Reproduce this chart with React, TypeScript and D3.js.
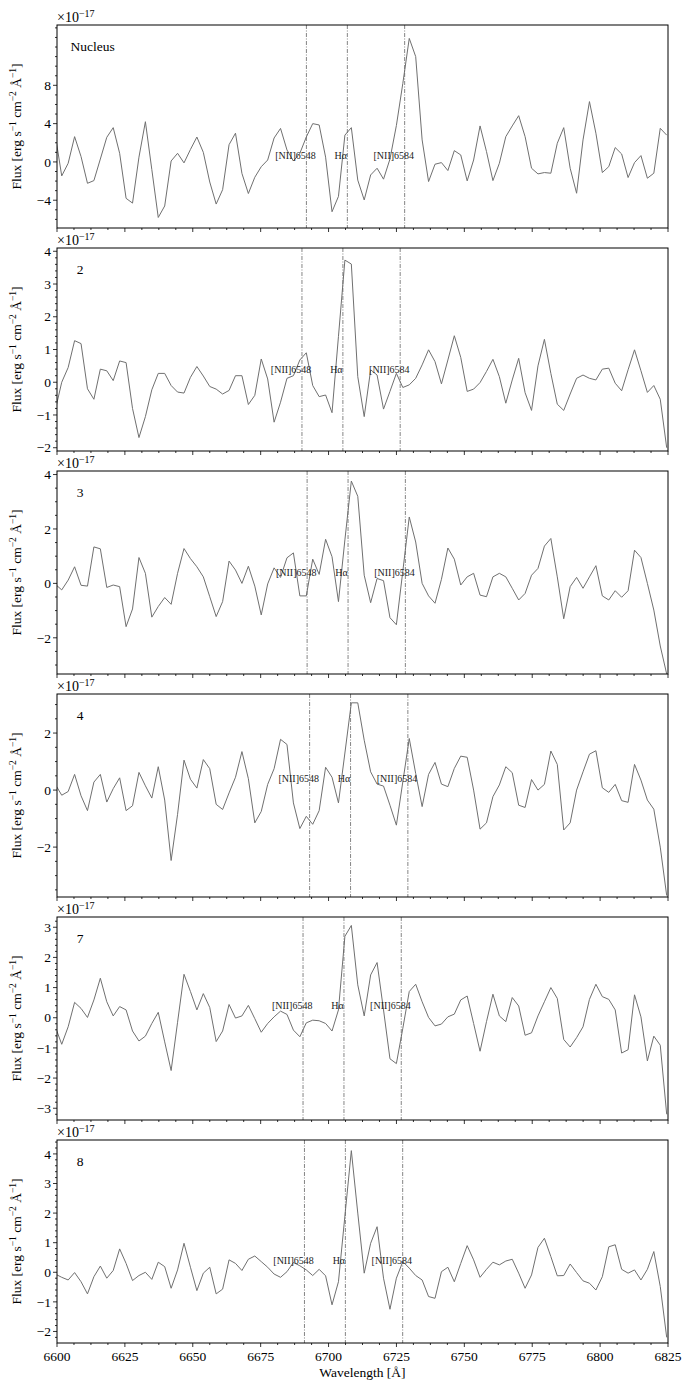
import * as d3 from 'd3';
import React, { useEffect, useRef } from 'react';

// observed wavelength grid of the spectra (Å)
const lambdaStart = 6597.0;
const lambdaStep = 2.37;

const panelNames = ['Nucleus', '2', '3', '4', '7', '8'];
const redshifts = [0.02196, 0.02171, 0.022, 0.02214, 0.02177, 0.02185];
const restLines = [6548.05, 6562.8, 6583.45];
const lineLabels = ['[NII]6548', 'Hα', '[NII]6584'];
const labelLevels = [0.7, 0.4, 0.4, 0.4, 0.4, 0.4];

// flux in units of 1e-17 erg/s/cm2/A
const fluxNucleus = [3.1, 2.8, -1.46, -0.14, 2.64, 0.56, -2.23, -1.95, 0.3, 2.57,
  3.58, 0.9, -3.8, -4.3, 0.5, 4.2, -0.8, -5.8, -4.6, 0.1,
  0.9, -0.1, 1.3, 2.6, 1.0, -2.1, -4.4, -2.9, 1.8, 3.0,
  -1.2, -3.3, -1.6, -0.5, 0.2, 2.5, 3.5, 1.25, 0.1, 0.9,
  2.6, 4.0, 3.86, 0.5, -5.2, -3.6, 2.8, 3.58, -1.9, -3.97,
  -1.36, -0.66, -1.8, 0.3, 3.8, 8.2, 12.9, 11.0, 2.3, -2.05,
  -0.24, -0.07, -0.9, 1.18, 0.73, -1.98, 0.2, 3.76, 1.08, -1.95,
  -0.14, 2.64, 3.76, 4.83, 2.64, -0.66, -1.25, -1.11, -1.18, 1.95,
  3.58, -0.66, -3.27, 2.3, 6.3, 3.0, -1.11, -0.49, 1.5, 0.83,
  -1.63, -0.07, 0.66, -1.7, -1.18, 3.51, 2.8];

const flux2 = [-1.0, -0.85, 0.0, 0.45, 1.27, 1.18, -0.2, -0.52, 0.4, 0.35,
  0.05, 0.65, 0.6, -0.8, -1.69, -1.05, -0.23, 0.27, 0.27, -0.1,
  -0.3, -0.33, 0.15, 0.48, 0.19, -0.13, -0.21, -0.36, -0.25, 0.2,
  0.2, -0.68, -0.4, 0.71, 0.1, -1.22, -0.61, 0.12, 0.2, 0.68,
  0.9, -0.1, -0.44, -0.39, -0.93, 1.4, 3.73, 3.61, 0.17, -1.05,
  0.38, 0.22, -0.82, -0.28, 0.27, -0.16, -0.08, 0.12, 0.53, 0.99,
  0.63, -0.05, 0.68, 1.42, 0.76, -0.28, -0.21, -0.01, 0.33, 0.7,
  0.17, -0.64, 0.07, 0.73, -0.32, -0.86, 0.5, 1.31, 0.27, -0.67,
  -0.86, -0.36, 0.12, 0.22, 0.12, 0.07, 0.4, 0.43, -0.03, -0.26,
  0.38, 0.99, 0.35, -0.31, -0.1, -0.52, -2.0];

const flux3 = [-0.15, -0.03, -0.24, 0.12, 0.61, -0.07, -0.1, 1.34, 1.27, -0.15,
  -0.06, -0.12, -1.59, -0.94, 0.95, 0.37, -1.24, -0.85, -0.52, -0.77,
  0.37, 1.28, 0.91, 0.61, 0.24, -0.49, -1.22, -0.67, 0.82, 0.49,
  0.0, 0.63, -0.1, -1.16, -0.02, 0.57, 0.22, 0.94, 1.12, -0.46,
  -0.46, 0.89, 0.33, 1.62, 0.98, -0.67, 1.6, 3.76, 3.2, 0.3,
  -0.71, 0.18, 0.1, -1.26, -1.52, 0.45, 2.44, 1.52, 0.0, -0.46,
  -0.73, 0.15, 1.3, 0.89, -0.06, 0.24, 0.37, -0.43, -0.49, 0.24,
  0.37, 0.24, -0.18, -0.61, -0.37, 0.3, 0.55, 1.37, 1.65, 0.24,
  -1.3, -0.12, 0.22, -0.18, 0.24, 0.65, -0.46, -0.61, -0.27, -0.51,
  -0.27, 1.22, 0.95, 0.0, -0.98, -2.3, -3.33];

const flux4 = [0.3, 0.2, -0.18, -0.05, 0.55, -0.2, -0.72, 0.28, 0.55, -0.42,
  0.05, 0.43, -0.72, -0.55, 0.62, 0.15, -0.28, 0.82, -0.35, -2.47,
  -0.85, 1.05, 0.38, 0.07, 1.07, 0.75, -0.5, -0.68, -0.1, 0.45,
  1.35, 0.4, -1.15, -0.75, 0.2, 0.75, 1.78, 1.6, -0.45, -1.35,
  -0.92, -1.2, -0.72, 0.8, 0.45, -0.45, 1.3, 3.06, 3.06, 1.75,
  0.64, 0.21, 0.14, -0.53, -1.23, 0.29, 1.81, 0.58, -0.58, 0.55,
  0.97, 0.21, 0.12, 0.76, 1.19, 1.15, 0.0, -1.37, -1.15, -0.23,
  0.18, 0.82, 0.61, -0.53, -0.61, 0.37, 0.0, 0.2, 1.37, 0.9,
  -1.4, -1.15, 0.0, 0.64, 1.26, 1.38, 0.08, -0.08, 0.2, -0.37,
  -0.43, 0.9, 0.35, -0.35, -0.67, -2.0, -3.7];

const flux7 = [-0.1, -0.3, -0.88, -0.3, 0.51, 0.31, 0.01, 0.59, 1.31, 0.53,
  0.06, 0.37, 0.26, -0.44, -0.77, -0.61, -0.19, 0.18, -0.8, -1.75,
  -0.15, 1.44, 0.87, 0.26, 0.8, 0.34, -0.79, -0.44, 0.44, -0.01,
  0.06, 0.41, -0.03, -0.48, -0.19, 0.03, 0.22, 0.11, -0.41, -0.63,
  -0.17, -0.08, -0.1, -0.19, -0.44, 0.26, 2.7, 3.06, 1.09, 0.06,
  1.42, 1.83, 0.26, -1.36, -1.52, -0.35, 0.87, 1.11, 0.53, 0.01,
  -0.27, -0.21, 0.03, 0.12, 0.59, 0.72, -0.19, -1.11, -0.13, 0.78,
  0.06, -0.13, 0.67, 0.39, -0.58, -0.5, 0.06, 0.53, 1.0, 0.64,
  -0.72, -0.97, -0.66, -0.3, 0.61, 1.11, 0.7, 0.61, 0.26, -1.17,
  -1.06, 0.76, 0.03, -1.43, -0.61, -0.91, -3.2];

const flux8 = [-0.05, -0.06, -0.17, -0.26, -0.01, -0.32, -0.73, -0.15, 0.21, -0.2,
  0.06, 0.79, 0.3, -0.28, -0.11, 0.0, -0.24, 0.34, 0.19, -0.54,
  0.08, 0.98, 0.17, -0.62, -0.03, 0.17, -0.73, -0.57, 0.42, 0.3,
  0.06, 0.44, 0.55, 0.36, 0.17, -0.06, -0.17, 0.02, 0.33, 0.22,
  0.08, -0.11, 0.1, -0.12, -1.1, -0.32, 1.9, 4.11, 2.0, -0.03,
  0.98, 1.54, -0.2, -1.25, -0.2, 0.36, 0.14, -0.11, -0.26, -0.82,
  -0.88, 0.02, 0.17, -0.32, 0.3, 0.9, 0.42, -0.17, 0.1, 0.34,
  0.25, 0.38, 0.44, -0.03, -0.54, -0.09, 0.84, 1.15, 0.53, -0.12,
  -0.11, 0.28, -0.01, -0.29, -0.37, -0.6, -0.15, 0.86, 0.93, 0.1,
  -0.03, 0.08, -0.26, 0.1, 0.7, -0.48, -2.2];

const fluxes = [fluxNucleus, flux2, flux3, flux4, flux7, flux8];

const yDomains = [[-6.9, 14.3], [-2.1, 4.1], [-3.33, 4.13], [-3.75, 3.37], [-3.39, 3.34], [-2.39, 4.47]];
const yMajorTicks = [
  [-4, 0, 4, 8],
  [-2, -1, 0, 1, 2, 3, 4],
  [-2, 0, 2, 4],
  [-2, 0, 2],
  [-3, -2, -1, 0, 1, 2, 3],
  [-2, -1, 0, 1, 2, 3, 4],
];
const yMinorSteps = [1, 0.2, 0.5, 0.5, 0.2, 0.2];
const xTicks = [6600, 6625, 6650, 6675, 6700, 6725, 6750, 6775, 6800, 6825];

const font = "'Liberation Serif', 'DejaVu Serif', serif";
const fmt = (v: number) => String(v).replace('-', '\u2212');

const App = () => {
  const ref = useRef<SVGSVGElement>(null);

  useEffect(() => {
    const svg = d3.select(ref.current);
    svg.selectAll('*').remove();

    const left = 57, right = 668, top0 = 25, panelH = 203, gap = 20;
    const x = d3.scaleLinear().domain([6600, 6825]).range([left, right]);
    const xMinor = d3.range(6600, 6825.01, 6.25).filter(v => (v - 6600) % 25 !== 0);
    const labelShift = [-4, -2.4, -4];

    fluxes.forEach((flux, i) => {
      const top = top0 + i * (panelH + gap);
      const bottom = top + panelH;
      const y = d3.scaleLinear().domain(yDomains[i]).range([bottom, top]);
      const g = svg.append('g');

      const clipId = 'clip-' + i;
      g.append('clipPath').attr('id', clipId).append('rect')
        .attr('x', left).attr('y', top).attr('width', right - left).attr('height', panelH);

      const pts: [number, number][] = flux.map((f, k) => [lambdaStart + k * lambdaStep, f]);
      const line = d3.line<[number, number]>().x(d => x(d[0])).y(d => y(d[1]));
      g.append('path').datum(pts)
        .attr('d', line)
        .attr('fill', 'none')
        .attr('stroke', '#707070')
        .attr('stroke-width', 1)
        .attr('clip-path', `url(#${clipId})`);

      // emission line markers
      restLines.forEach((rest, j) => {
        const obs = rest * (1 + redshifts[i]);
        g.append('line')
          .attr('x1', x(obs)).attr('x2', x(obs))
          .attr('y1', top).attr('y2', bottom)
          .attr('stroke', '#666').attr('stroke-width', 0.8)
          .attr('stroke-dasharray', '4,1.5,1,1.5');
        g.append('text')
          .attr('x', x(obs + labelShift[j]))
          .attr('y', y(labelLevels[i]))
          .attr('dy', '0.35em')
          .attr('text-anchor', 'middle')
          .attr('font-family', font)
          .attr('font-size', 10)
          .attr('fill', '#222')
          .text(lineLabels[j]);
      });

      // frame
      g.append('rect')
        .attr('x', left).attr('y', top).attr('width', right - left).attr('height', panelH)
        .attr('fill', 'none').attr('stroke', '#000').attr('stroke-width', 1);

      // y ticks
      const [d0, d1] = yDomains[i];
      const step = yMinorSteps[i];
      const minor = d3.range(Math.ceil(d0 / step) * step, d1, step)
        .filter(v => !yMajorTicks[i].some(t => Math.abs(t - v) < 1e-6));
      g.selectAll(null).data(minor).enter().append('line')
        .attr('x1', left - 2).attr('x2', left)
        .attr('y1', d => y(d)).attr('y2', d => y(d))
        .attr('stroke', '#000').attr('stroke-width', 0.8);
      g.selectAll(null).data(yMajorTicks[i]).enter().append('line')
        .attr('x1', left - 4).attr('x2', left)
        .attr('y1', d => y(d)).attr('y2', d => y(d))
        .attr('stroke', '#000').attr('stroke-width', 0.8);
      g.selectAll(null).data(yMajorTicks[i]).enter().append('text')
        .attr('x', left - 6).attr('y', d => y(d)).attr('dy', '0.35em')
        .attr('text-anchor', 'end')
        .attr('font-family', font).attr('font-size', 13.5)
        .text(d => fmt(d));

      // x ticks
      g.selectAll(null).data(xMinor).enter().append('line')
        .attr('x1', d => x(d)).attr('x2', d => x(d))
        .attr('y1', bottom).attr('y2', bottom + 2)
        .attr('stroke', '#000').attr('stroke-width', 0.8);
      g.selectAll(null).data(xTicks).enter().append('line')
        .attr('x1', d => x(d)).attr('x2', d => x(d))
        .attr('y1', bottom).attr('y2', bottom + 4)
        .attr('stroke', '#000').attr('stroke-width', 0.8);
      if (i === fluxes.length - 1) {
        g.selectAll(null).data(xTicks).enter().append('text')
          .attr('x', d => x(d)).attr('y', bottom + 18)
          .attr('text-anchor', 'middle')
          .attr('font-family', font).attr('font-size', 13.5)
          .text(d => String(d));
        g.append('text')
          .attr('x', (left + right) / 2).attr('y', bottom + 34)
          .attr('text-anchor', 'middle')
          .attr('font-family', font).attr('font-size', 13.5)
          .text('Wavelength [Å]');
      }

      // offset text
      const off = g.append('text')
        .attr('x', left).attr('y', top - 3)
        .attr('font-family', font).attr('font-size', 14);
      off.append('tspan').text('×10');
      off.append('tspan').attr('dy', -5).attr('font-size', 10).text('\u221217');

      // panel name
      g.append('text')
        .attr('x', i === 0 ? x(6605) : x(6607.3))
        .attr('y', top + 26)
        .attr('font-family', font).attr('font-size', 13.5)
        .text(panelNames[i]);

      // y label
      const yl = g.append('text')
        .attr('transform', `translate(${21},${top + panelH / 2}) rotate(-90)`)
        .attr('text-anchor', 'middle')
        .attr('font-family', font).attr('font-size', 13.5);
      yl.append('tspan').text('Flux [erg s');
      yl.append('tspan').attr('dy', -5).attr('font-size', 9.5).text('\u22121');
      yl.append('tspan').attr('dy', 5).text(' cm');
      yl.append('tspan').attr('dy', -5).attr('font-size', 9.5).text('\u22122');
      yl.append('tspan').attr('dy', 5).text(' Å');
      yl.append('tspan').attr('dy', -5).attr('font-size', 9.5).text('\u22121');
      yl.append('tspan').attr('dy', 5).text(']');
    });
  }, []);

  return (
    <svg ref={ref} width={682} height={1380}
      style={{ position: 'absolute', left: 0, top: 0, background: '#fff' }} />
  );
};

export default App;
